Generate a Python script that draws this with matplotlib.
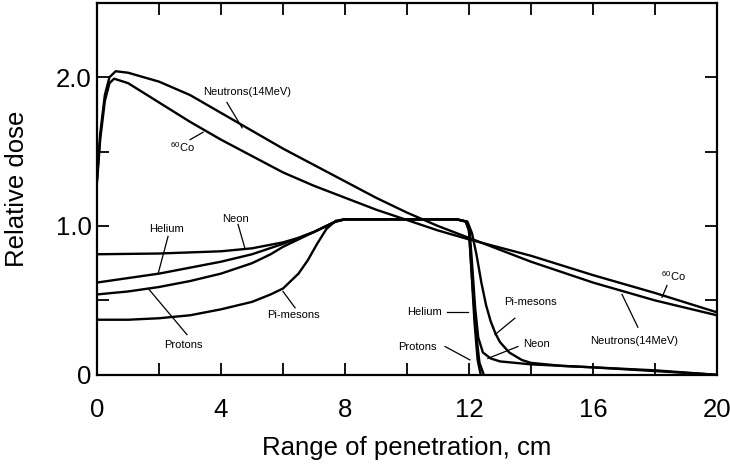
import matplotlib
matplotlib.use("Agg")
import matplotlib.pyplot as plt

plt.rcParams.update({
    "font.family": ["Liberation Sans", "DejaVu Sans"],
    "mathtext.fontset": "custom",
    "mathtext.rm": "Liberation Sans",
    "mathtext.it": "Liberation Sans",
})

# depth-dose curves (x in cm, relative dose)
neut_x = [0, 0.1, 0.25, 0.4, 0.6, 1, 2, 3, 4, 5, 6, 7, 8, 9, 10, 11, 12, 13, 14, 16, 18, 20]
neut_y = [1.32, 1.62, 1.88, 2.00, 2.04, 2.03, 1.97, 1.88, 1.76, 1.64, 1.52, 1.41, 1.30, 1.19,
          1.09, 1.00, 0.92, 0.84, 0.76, 0.62, 0.50, 0.40]

co_x = [0, 0.1, 0.25, 0.4, 0.55, 1, 2, 3, 4, 5, 6, 7, 8, 9, 10, 11, 12, 14, 16, 18, 20]
co_y = [1.30, 1.58, 1.84, 1.96, 1.99, 1.96, 1.83, 1.70, 1.58, 1.47, 1.36, 1.27, 1.19, 1.11,
        1.04, 0.97, 0.91, 0.80, 0.67, 0.55, 0.42]

neon_x = [0, 2, 4, 5, 6, 6.5, 7, 7.4, 7.7, 8.0, 11.6, 11.9, 12.02, 12.1, 12.2, 12.3, 12.45,
          12.7, 13, 14, 16, 18, 20]
neon_y = [0.81, 0.815, 0.83, 0.85, 0.89, 0.92, 0.96, 1.00, 1.03, 1.045, 1.045, 1.03, 0.97,
          0.75, 0.45, 0.25, 0.15, 0.11, 0.09, 0.07, 0.05, 0.03, 0.0]

he_x = [0, 1, 2, 3, 4, 5, 6, 6.5, 7, 7.4, 7.7, 8.0, 11.6, 11.9, 12.0, 12.08, 12.18, 12.28, 12.38]
he_y = [0.62, 0.65, 0.68, 0.72, 0.76, 0.81, 0.88, 0.92, 0.96, 1.00, 1.03, 1.045, 1.045, 1.03,
        0.97, 0.70, 0.35, 0.10, 0.0]

pro_x = [0, 1, 2, 3, 4, 5, 5.6, 6, 6.5, 7, 7.4, 7.7, 8.0, 11.6, 11.9, 12.0, 12.1, 12.22, 12.34, 12.48]
pro_y = [0.54, 0.56, 0.59, 0.63, 0.68, 0.75, 0.81, 0.86, 0.91, 0.96, 1.00, 1.03, 1.045, 1.045,
         1.03, 0.97, 0.65, 0.30, 0.08, 0.0]

pi_x = [0, 1, 2, 3, 4, 5, 5.6, 6, 6.5, 6.8, 7.1, 7.4, 7.7, 8.0, 11.6, 11.95, 12.1, 12.25, 12.4,
        12.55, 12.7, 12.85, 13.0, 13.3, 13.7, 14, 15, 16, 18, 20]
pi_y = [0.37, 0.37, 0.38, 0.40, 0.44, 0.49, 0.54, 0.58, 0.68, 0.77, 0.88, 0.98, 1.035, 1.045,
        1.045, 1.03, 0.95, 0.80, 0.62, 0.47, 0.36, 0.28, 0.22, 0.15, 0.10, 0.08, 0.06, 0.05,
        0.025, 0.0]

curves = [(neut_x, neut_y), (co_x, co_y), (neon_x, neon_y), (he_x, he_y),
          (pro_x, pro_y), (pi_x, pi_y)]

# curve labels: text, text position, leader line (from, to)
labels = [
    ("Neutrons(14MeV)", (4.84, 1.90), (4.19, 1.83), (4.68, 1.66)),
    ("$^{60}$Co", (2.74, 1.53), (3.0, 1.58), (3.42, 1.63)),
    ("Helium", (2.23, 0.98), (2.29, 0.93), (1.97, 0.68)),
    ("Neon", (4.48, 1.05), (4.55, 1.01), (4.77, 0.85)),
    ("Protons", (2.77, 0.20), (2.90, 0.27), (1.65, 0.58)),
    ("Pi-mesons", (6.35, 0.40), (6.39, 0.45), (6.0, 0.56)),
    ("Helium", (10.55, 0.42), (11.29, 0.42), (11.97, 0.42)),
    ("Protons", (10.35, 0.19), (11.23, 0.19), (12.03, 0.10)),
    ("Pi-mesons", (13.97, 0.49), (13.48, 0.38), (12.84, 0.27)),
    ("Neon", (14.19, 0.21), (13.58, 0.19), (12.61, 0.11)),
    ("Neutrons(14MeV)", (17.32, 0.23), (17.45, 0.32), (16.94, 0.54)),
    ("$^{60}$Co", (18.61, 0.66), (18.39, 0.60), (18.23, 0.52)),
]

xticks = [0, 2, 4, 6, 8, 10, 12, 14, 16, 18, 20]
xticklabels = ["0", "", "4", "", "8", "", "12", "", "16", "", "20"]
yticks = [0, 0.5, 1.0, 1.5, 2.0]
yticklabels = ["0", "", "1.0", "", "2.0"]

fig = plt.figure(figsize=(7.3, 4.65), dpi=100)
ax = fig.add_axes([0.133, 0.194, 0.849, 0.800])

for x, y in curves:
    ax.plot(x, y, color="black", lw=1.7, solid_joinstyle="round")

for txt, (tx, ty), (x0, y0), (x1, y1) in labels:
    ax.text(tx, ty, txt, ha="center", va="center", fontsize=8)
    ax.plot([x0, x1], [y0, y1], color="black", lw=0.9)

ax.set_xlim(0, 20)
ax.set_ylim(0, 2.5)
ax.set_xticks(xticks)
ax.set_xticklabels(xticklabels)
ax.set_yticks(yticks)
ax.set_yticklabels(yticklabels)
ax.tick_params(direction="in", top=True, right=True, length=8.5, width=1.3,
               labelsize=18.5)
ax.tick_params(axis="x", pad=17)
ax.tick_params(axis="y", pad=4)
for s in ax.spines.values():
    s.set_linewidth(1.6)

ax.set_xlabel("Range of penetration, cm", fontsize=18.5, labelpad=10)
ax.set_ylabel("Relative dose", fontsize=18.5, labelpad=19)

fig.savefig("out.png", dpi=100)
